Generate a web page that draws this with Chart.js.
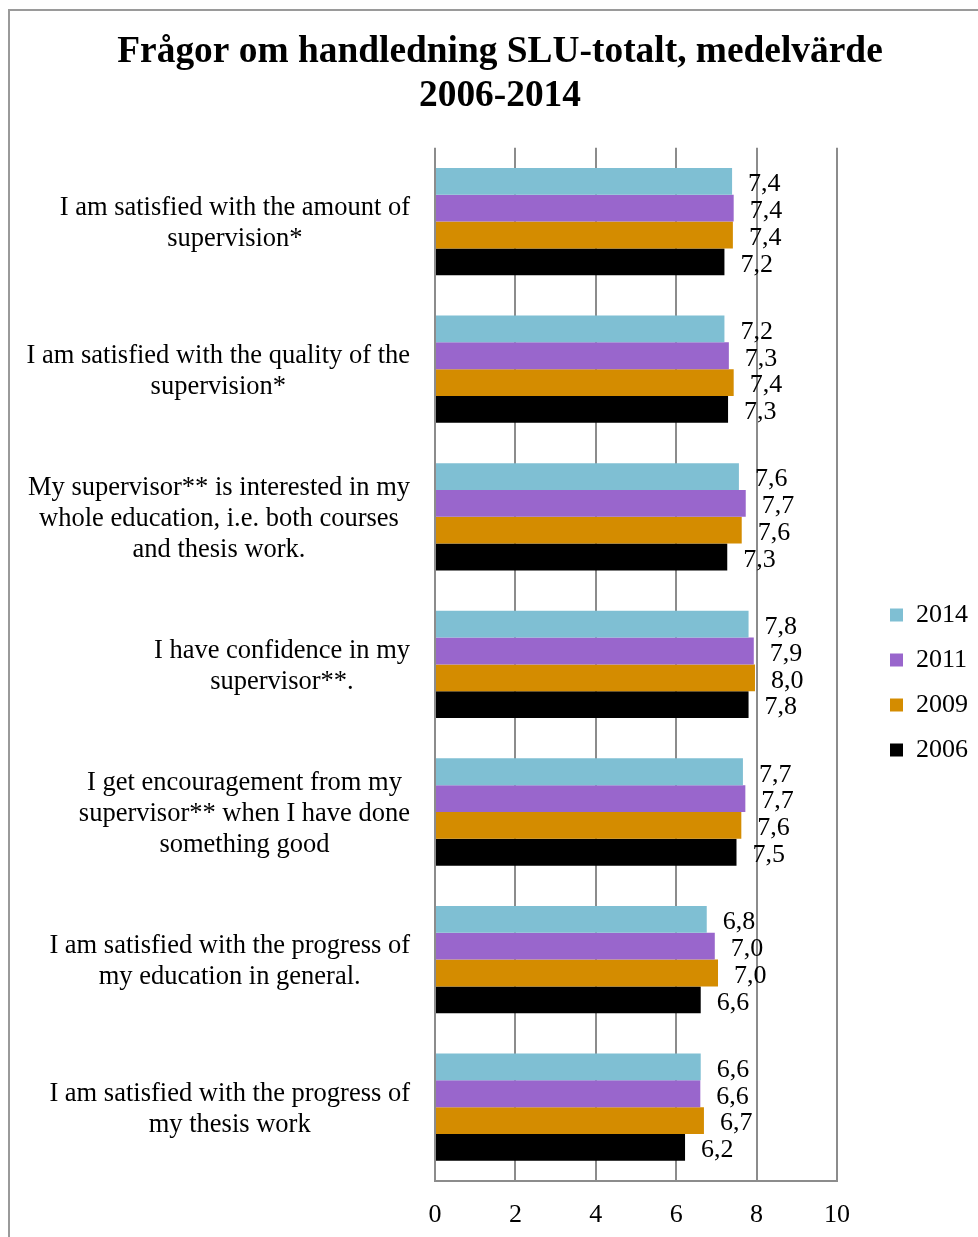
<!DOCTYPE html>
<html>
<head>
<meta charset="utf-8">
<title>Frågor om handledning SLU-totalt</title>
<script src="https://cdn.jsdelivr.net/npm/chart.js@4.4.1/dist/chart.umd.min.js"></script>
<style>
  html, body { margin: 0; padding: 0; background: #fff; overflow: hidden; }
  #frame {
    position: absolute; left: 8px; top: 9px; width: 2000px; height: 2000px;
    border-left: 2px solid #9a9a9a; border-top: 2px solid #9a9a9a;
  }
  #wrap { position: absolute; left: 0; top: 0; width: 978px; height: 1260px; }
  canvas { display: block; }
</style>
</head>
<body>
<div id="frame"></div>
<div id="wrap"><canvas id="chart" width="978" height="1260"></canvas></div>
<script>
// ── Data ──
const categories = [
  ['I am satisfied with the amount of', 'supervision*'],
  ['I am satisfied with the quality of the', 'supervision*'],
  ['My supervisor** is interested in my', 'whole education, i.e. both courses', 'and thesis work.'],
  ['I have confidence in my', 'supervisor**.'],
  ['I get encouragement from my', 'supervisor** when I have done', 'something good'],
  ['I am satisfied with the progress of', 'my education in general.'],
  ['I am satisfied with the progress of', 'my thesis work']
];
const years = ['2014', '2011', '2009', '2006'];
const v2014 = [7.39, 7.20, 7.56, 7.80, 7.66, 6.76, 6.61];
const v2011 = [7.43, 7.31, 7.73, 7.93, 7.72, 6.96, 6.60];
const v2009 = [7.41, 7.43, 7.63, 7.96, 7.62, 7.04, 6.69];
const v2006 = [7.20, 7.29, 7.27, 7.80, 7.50, 6.61, 6.22];
const xTicks = [0, 2, 4, 6, 8, 10];

const serif = "'Liberation Serif', 'Times New Roman', serif";
const gridGray = '#8c8c8c';
Chart.defaults.color = '#000';
Chart.defaults.font.family = serif;

// ── Value labels right of each bar ──
const valueLabels = {
  id: 'valueLabels',
  afterDatasetsDraw(chart) {
    const ctx = chart.ctx;
    ctx.save();
    ctx.font = '26px ' + serif;
    ctx.fillStyle = '#000';
    ctx.textAlign = 'left';
    ctx.textBaseline = 'middle';
    chart.data.datasets.forEach((ds, i) => {
      chart.getDatasetMeta(i).data.forEach((bar, j) => {
        const txt = ds.data[j].toFixed(1).replace('.', ',');
        ctx.fillText(txt, bar.x + 16, bar.y + 3);
      });
    });
    ctx.restore();
  }
};

// ── Category labels: each block centred on itself, right edge near the axis ──
const categoryLabels = {
  id: 'categoryLabels',
  afterDraw(chart) {
    const ctx = chart.ctx;
    const y = chart.scales.y;
    const right = chart.chartArea.left - 25;
    const lh = 31;
    ctx.save();
    ctx.font = '26.5px ' + serif;
    ctx.fillStyle = '#000';
    ctx.textAlign = 'center';
    ctx.textBaseline = 'middle';
    categories.forEach((lines, i) => {
      const w = Math.max(...lines.map(l => ctx.measureText(l).width));
      const cx = right - w / 2;
      const cy = y.getPixelForValue(i) + 2;
      lines.forEach((l, k) => {
        ctx.fillText(l, cx, cy + (k - (lines.length - 1) / 2) * lh);
      });
    });
    ctx.restore();
  }
};

new Chart(document.getElementById('chart'), {
  type: 'bar',
  data: {
    labels: categories,
    datasets: [
      { label: years[0], data: v2014, backgroundColor: '#7fbfd3' },
      { label: years[1], data: v2011, backgroundColor: '#9966cc' },
      { label: years[2], data: v2009, backgroundColor: '#d48c00' },
      { label: years[3], data: v2006, backgroundColor: '#000000' }
    ]
  },
  options: {
    indexAxis: 'y',
    responsive: false,
    animation: false,
    categoryPercentage: 0.727,
    barPercentage: 1.0,
    layout: { padding: { left: 22, right: 0, top: 0, bottom: 11 } },
    plugins: {
      title: {
        display: true,
        text: ['Frågor om handledning SLU-totalt, medelvärde', '2006-2014'],
        color: '#000',
        font: { family: serif, size: 37.4, weight: 'bold', lineHeight: 1.16 },
        padding: { top: 31, bottom: 30 }
      },
      legend: {
        position: 'right',
        align: 'center',
        maxWidth: 110,
        title: { display: true, text: '', font: { size: 10, lineHeight: 1 }, padding: { top: 53, bottom: 53 } },
        labels: {
          boxWidth: 13,
          boxHeight: 13,
          padding: 19,
          color: '#000',
          font: { family: serif, size: 26 }
        }
      },
      tooltip: { enabled: false }
    },
    scales: {
      x: {
        min: 0,
        max: 10,
        afterBuildTicks: s => { s.ticks = xTicks.map(v => ({ value: v })); },
        grid: { color: gridGray, lineWidth: 2, drawTicks: false },
        border: { display: true, color: gridGray, width: 2 },
        ticks: { color: '#000', padding: 21, font: { family: serif, size: 26, lineHeight: 1 } }
      },
      y: {
        grid: { display: false },
        border: { display: false },
        ticks: { display: false },
        afterFit: s => { s.width = 413; }
      },
      // empty spacer between plot and legend
      pad: {
        type: 'linear',
        position: 'right',
        grid: { display: false },
        border: { display: false },
        ticks: { display: false },
        afterFit: s => { s.width = 34; }
      }
    }
  },
  plugins: [valueLabels, categoryLabels]
});
</script>
</body>
</html>
